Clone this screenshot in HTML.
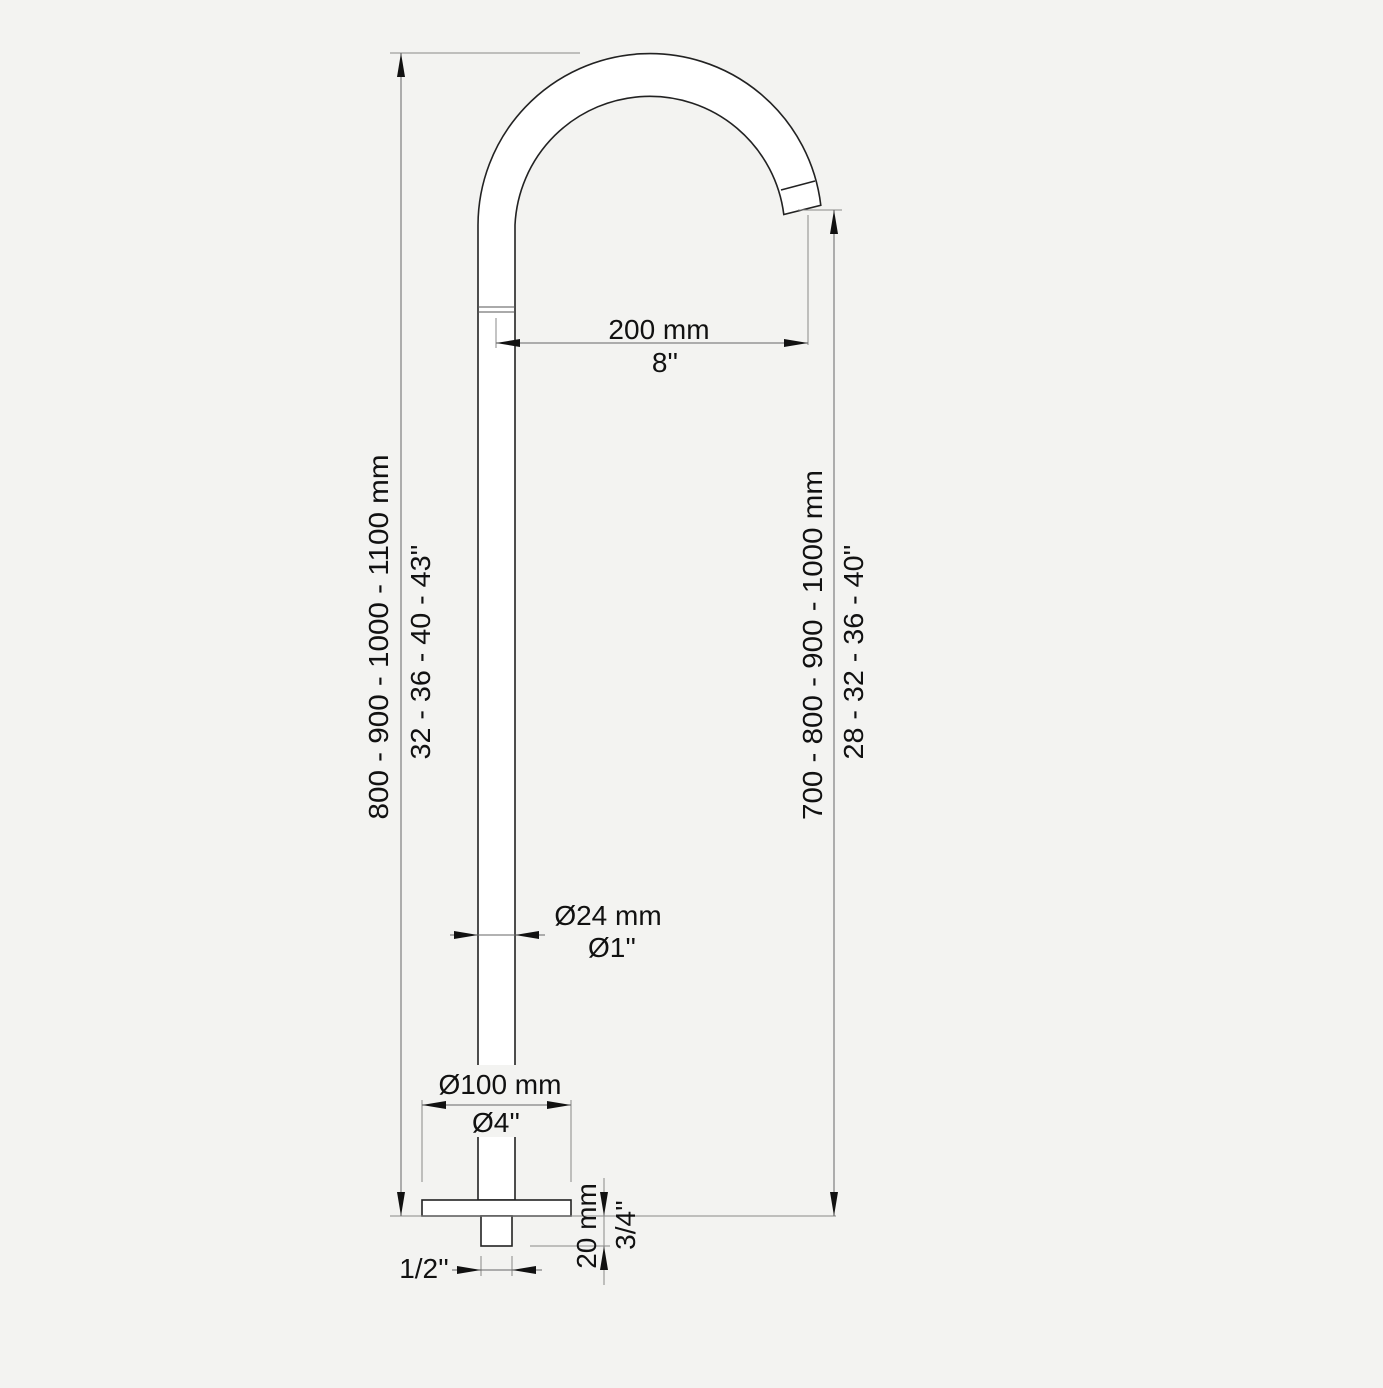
<!DOCTYPE html>
<html><head><style>html,body{margin:0;padding:0;background:#f3f3f1}</style></head>
<body>
<svg width="1383" height="1383" viewBox="0 0 1383 1383" xmlns="http://www.w3.org/2000/svg" font-family="Liberation Sans, Arial, sans-serif" fill="#111">
<rect width="1383" height="1383" fill="#f3f3f1"/>
<!-- faucet body -->
<path d="M478,1200 L478,225 A172,172 0 0 1 820.8,205.3 L783.8,214.5 A135,135 0 0 0 515,225 L515,1200 Z" fill="#fff" stroke="#222" stroke-width="1.6"/>
<line x1="781" y1="190" x2="815" y2="181" stroke="#222" stroke-width="1.6"/>
<line x1="478" y1="307" x2="515" y2="307" stroke="#555" stroke-width="1"/>
<line x1="478" y1="312" x2="515" y2="312" stroke="#555" stroke-width="1"/>
<rect x="422" y="1200" width="149" height="16" fill="#fff" stroke="#222" stroke-width="1.6"/>
<rect x="481" y="1216" width="31" height="30" fill="#fff" stroke="#222" stroke-width="1.6"/>
<rect x="475" y="1065" width="44" height="72" fill="#f3f3f1"/>
<g stroke="#888" stroke-width="1" fill="none">
<line x1="390" y1="53" x2="580" y2="53"/>
<line x1="390" y1="1216" x2="836" y2="1216"/>
<line x1="798" y1="210" x2="842" y2="210"/>
<line x1="808" y1="215" x2="808" y2="345"/>
<line x1="496" y1="318" x2="496" y2="348"/>
<line x1="422" y1="1100" x2="422" y2="1182"/>
<line x1="571" y1="1100" x2="571" y2="1182"/>
<line x1="530" y1="1246" x2="610" y2="1246"/>
<line x1="481" y1="1256" x2="481" y2="1276"/>
<line x1="512" y1="1256" x2="512" y2="1276"/>
<line x1="604" y1="1178" x2="604" y2="1285"/>
</g>
<g stroke="#666" stroke-width="1" fill="none">
<line x1="401" y1="53" x2="401" y2="1216"/>
<line x1="834" y1="210" x2="834" y2="1216"/>
<line x1="496" y1="343" x2="808" y2="343"/>
<line x1="422" y1="1105" x2="571" y2="1105"/>
<line x1="450" y1="935" x2="545" y2="935"/>
<line x1="452" y1="1270" x2="542" y2="1270"/>
</g>
<g fill="#111">
<!-- vertical arrows -->
<path d="M401,53 l-4,24 h8z"/>
<path d="M401,1216 l-4,-24 h8z"/>
<path d="M834,210 l-4,24 h8z"/>
<path d="M834,1216 l-4,-24 h8z"/>
<path d="M604,1216 l-4,-24 h8z"/>
<path d="M604,1246 l-4,24 h8z"/>
<!-- horizontal -->
<path d="M496,343 l24,-4 v8z"/>
<path d="M808,343 l-24,-4 v8z"/>
<path d="M422,1105 l24,-4 v8z"/>
<path d="M571,1105 l-24,-4 v8z"/>
<path d="M478,935 l-24,-4 v8z"/>
<path d="M515,935 l24,-4 v8z"/>
<path d="M481,1270 l-24,-4 v8z"/>
<path d="M512,1270 l24,-4 v8z"/>
</g>
<g font-size="28" text-anchor="middle">
<text x="659" y="339">200 mm</text>
<text x="665" y="372">8''</text>
<text x="608" y="925">Ø24 mm</text>
<text x="612" y="957">Ø1''</text>
<text x="500" y="1094">Ø100 mm</text>
<text x="496" y="1132">Ø4''</text>
<text x="424" y="1278">1/2''</text>
<text transform="translate(388,637) rotate(-90)" textLength="365" lengthAdjust="spacingAndGlyphs">800 - 900 - 1000 - 1100 mm</text>
<text transform="translate(430,652) rotate(-90)" textLength="215" lengthAdjust="spacingAndGlyphs">32 - 36 - 40 - 43''</text>
<text transform="translate(822,645) rotate(-90)" textLength="350" lengthAdjust="spacingAndGlyphs">700 - 800 - 900 - 1000 mm</text>
<text transform="translate(863,652) rotate(-90)" textLength="215" lengthAdjust="spacingAndGlyphs">28 - 32 - 36 - 40''</text>
<text transform="translate(596,1226) rotate(-90)">20 mm</text>
<text transform="translate(635,1225) rotate(-90)">3/4''</text>
</g>
</svg>
</body></html>
